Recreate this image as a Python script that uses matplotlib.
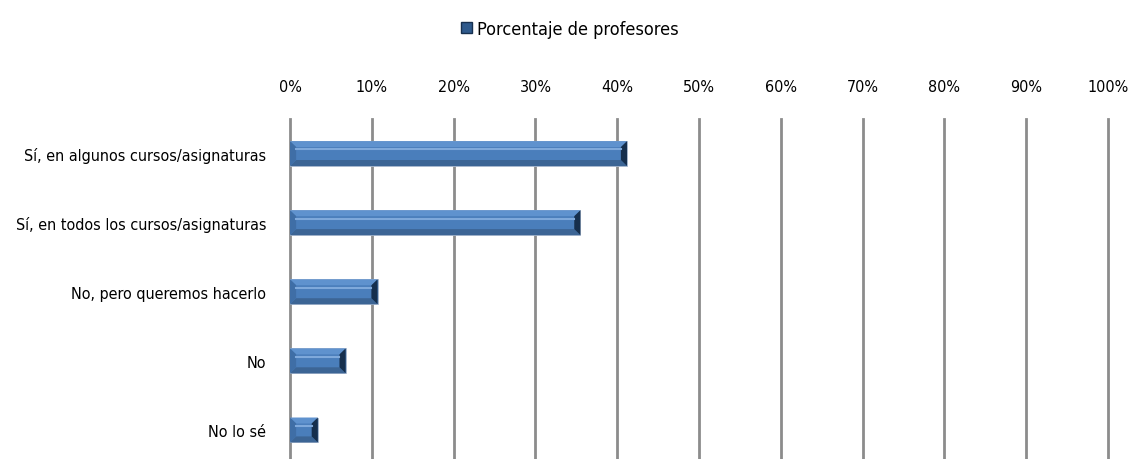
import matplotlib.pyplot as plt
from matplotlib.patches import Polygon, Patch
from matplotlib.ticker import FuncFormatter

categories = ["Sí, en algunos cursos/asignaturas", "Sí, en todos los cursos/asignaturas",
              "No, pero queremos hacerlo", "No", "No lo sé"]
values = [41.2, 35.5, 10.7, 6.8, 3.4]
series_name = "Porcentaje de profesores"
ticks = list(range(0, 101, 10))

plt.rcParams['font.family'] = ['DejaVu Sans']
plt.rcParams['font.stretch'] = 'condensed'

fig = plt.figure(figsize=(11.3, 4.6), dpi=100)
ax = fig.add_axes([290 / 1130, -5.5 / 460, 818 / 1130, 345.5 / 460])

ypos = list(range(len(categories)))
h = 0.36
face = "#4A7EBB"
ax.barh(ypos, values, height=h, color=face, edgecolor="#A9B8CC", linewidth=0.6, zorder=3)

# bevel effect
dx = 0.75
dy = h * 0.24
for y, v in zip(ypos, values):
    t, b = y - h / 2, y + h / 2  # inverted axis: t is visually top
    bx = min(dx, v / 3)
    polys = [
        ([(0, t), (v, t), (v - bx, t + dy), (bx, t + dy)], "#5F92CE"),
        ([(0, b), (v, b), (v - bx, b - dy), (bx, b - dy)], "#3C6595"),
        ([(0, t), (bx, t + dy), (bx, b - dy), (0, b)], "#3F6EA6"),
        ([(v, t), (v - bx, t + dy), (v - bx, b - dy), (v, b)], "#162F4D"),
    ]
    for pts, c in polys:
        ax.add_patch(Polygon(pts, closed=True, facecolor=c, edgecolor="none", zorder=4))
    ax.plot([bx, v - bx], [t + dy * 1.4, t + dy * 1.4], color="#7FA9DB", lw=1.5, zorder=5)

ax.set_xlim(0, 100)
ax.set_ylim(len(categories) - 0.5, -0.5)
ax.set_xticks(ticks)
ax.xaxis.set_major_formatter(FuncFormatter(lambda x, p: f"{x:.0f}%"))
ax.xaxis.tick_top()
ax.tick_params(axis='x', length=0, pad=18, labelsize=11.5)
ax.set_yticks(ypos)
ax.set_yticklabels(categories, fontsize=11.5)
ax.tick_params(axis='y', length=0, pad=17)
ax.grid(axis='x', color="#8C8C8C", linewidth=2, zorder=0)
ax.set_axisbelow(True)
for line in ax.get_xgridlines():
    line.set_clip_on(False)
for s in ax.spines.values():
    s.set_visible(False)

handle = Patch(facecolor="#2F5A8C", edgecolor="#17304F")
fig.legend([handle], [series_name], loc="center", bbox_to_anchor=(570 / 1130, 1 - 30 / 460),
           frameon=False, fontsize=13, handlelength=0.6, handleheight=0.6, handletextpad=0.3)

fig.savefig("out.png", dpi=100)
